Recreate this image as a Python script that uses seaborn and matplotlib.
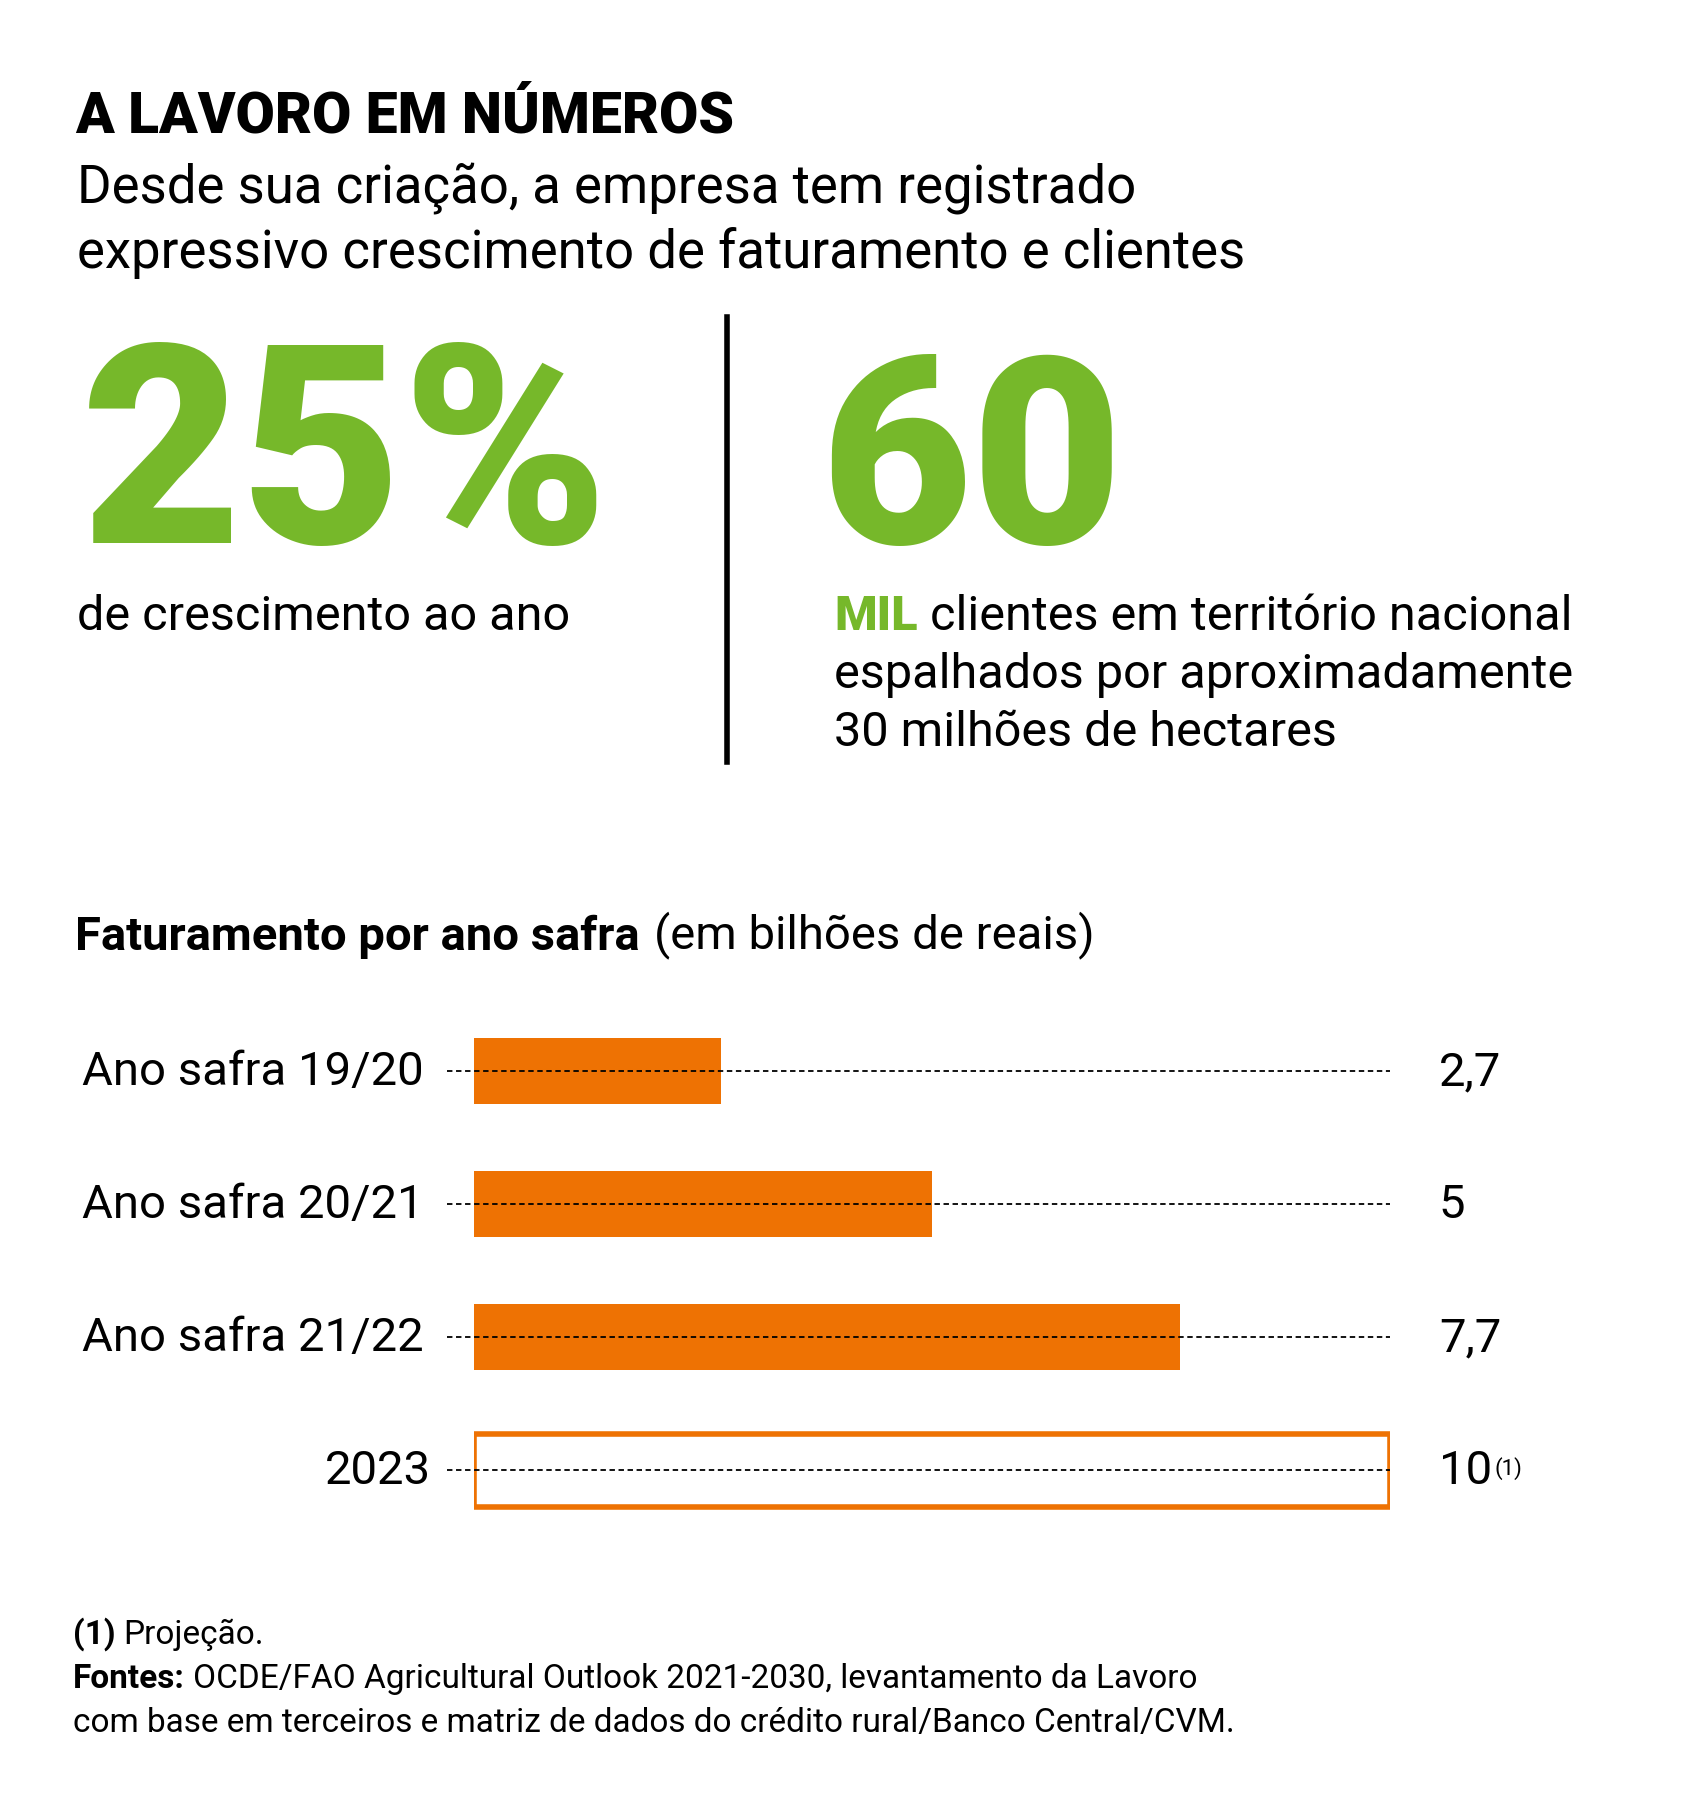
import matplotlib
matplotlib.use("Agg")
import matplotlib.pyplot as plt
import seaborn as sns
import pandas as pd

categories = ["Ano safra 19/20", "Ano safra 20/21", "Ano safra 21/22", "2023"]
values = [2.7, 5, 7.7, 10]
value_labels = ["2,7", "5", "7,7", "10"]

GREEN = "#76b82a"
ORANGE = "#ee7203"
FONT = "Roboto"
W, H = 1464, 1570

fig = plt.figure(figsize=(16.92, 18.15), dpi=100)
fig.patch.set_facecolor("white")

def T(x, y, s, **kw):
    kw.setdefault("family", FONT)
    kw.setdefault("va", "baseline")
    return fig.text(x / W, 1 - y / H, s, **kw)

def after(prev, s, gap=10, **kw):
    kw.setdefault("family", FONT)
    return fig.text(0, 0, s, **kw) if prev is None else \
        fig.axes[0].annotate(s, xy=(1, 0), xycoords=prev, xytext=(gap, 0),
                             textcoords="offset pixels", va="baseline", ha="left",
                             annotation_clip=False, **kw) if False else \
        plt.annotate(s, xy=(1, 0), xycoords=prev, xytext=(gap, 0),
                     textcoords="offset pixels", va="bottom", ha="left",
                     annotation_clip=False, **kw)

T(65, 115, "A LAVORO EM NÚMEROS", size=41, weight="heavy")
T(67, 175, "Desde sua criação, a empresa tem registrado", size=38)
T(67, 232, "expressivo crescimento de faturamento e clientes", size=38)
T(70, 470, "25%", size=200, weight="heavy", color=GREEN)
T(710, 470, "60", size=188, weight="heavy", color=GREEN)
T(67, 545, "de crescimento ao ano", size=35)
mil = T(722, 545, "MIL", size=35, weight="heavy", color=GREEN)
fig.add_artist(plt.Line2D([629 / W] * 2, [1 - 275 / H, 1 - 660 / H], color="black", lw=4))

ax = fig.add_axes([410 / W, 1 - 1330 / H, (1203 - 410) / W, 460 / H])
df = pd.DataFrame({"cat": categories, "val": values})
sns.barplot(data=df, y="cat", x="val", orient="h", color=ORANGE, width=0.5,
            saturation=1, ax=ax, order=categories)
last = ax.patches[3]
last.set_facecolor("white")
last.set_edgecolor(ORANGE)
last.set_linewidth(4)
last.set_height(0.55)
last.set_y(3 - 0.275)
ax.set_xlim(0, 10)
ax.set_ylim(3.5, -0.5)
ax.axis("off")
for i, (c, lab) in enumerate(zip(categories, value_labels)):
    ax.hlines(i, -0.29, 10, colors="black", linestyles=(0, (3, 2)), lw=1.3, clip_on=False, zorder=3)
    ax.text(-0.55 if i < 3 else -0.47, i, c, ha="right", va="center", size=34, family=FONT)
    t = ax.text(10.53, i, lab, ha="left", va="center", size=34, family=FONT)
    if i == 3:
        ax.annotate("(1)", xy=(1, 1), xycoords=t, xytext=(2, -8), textcoords="offset pixels",
                    va="top", ha="left", size=16, family=FONT, annotation_clip=False)

ax.annotate("clientes em território nacional", xy=(1, 0), xycoords=mil, xytext=(12, 0),
            textcoords="offset pixels", va="bottom", ha="left", size=35, family=FONT,
            annotation_clip=False)
T(722, 595, "espalhados por aproximadamente", size=35)
T(722, 645, "30 milhões de hectares", size=35)

ct = T(65, 822, "Faturamento por ano safra", size=34, weight="bold")
ax.annotate("(em bilhões de reais)", xy=(1, 0), xycoords=ct, xytext=(14, 0),
            textcoords="offset pixels", va="bottom", ha="left", size=34, family=FONT,
            annotation_clip=False)

f1 = T(63, 1422, "(1)", size=24, weight="bold")
ax.annotate("Projeção.", xy=(1, 0), xycoords=f1, xytext=(8, 0), textcoords="offset pixels",
            va="bottom", ha="left", size=24, family=FONT, annotation_clip=False)
f2 = T(63, 1460, "Fontes:", size=24, weight="bold")
ax.annotate("OCDE/FAO Agricultural Outlook 2021-2030, levantamento da Lavoro", xy=(1, 0),
            xycoords=f2, xytext=(8, 0), textcoords="offset pixels",
            va="bottom", ha="left", size=24, family=FONT, annotation_clip=False)
T(63, 1498, "com base em terceiros e matriz de dados do crédito rural/Banco Central/CVM.", size=24)

fig.savefig("out.png", dpi=100, facecolor="white")
